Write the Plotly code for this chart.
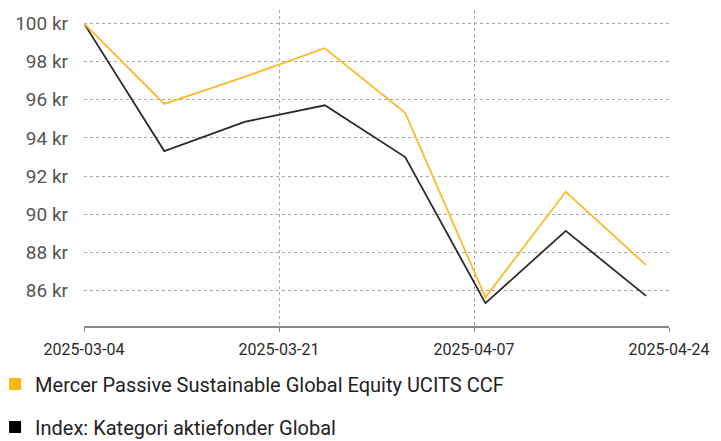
import plotly.graph_objects as go

dates = ["2025-03-04", "2025-03-11", "2025-03-18", "2025-03-25",
         "2025-04-01", "2025-04-08", "2025-04-15", "2025-04-22"]
fund_values = [100.0, 95.78, 97.2, 98.70, 95.31, 85.65, 91.18, 87.34]
index_values = [100.0, 93.31, 94.84, 95.71, 93.0, 85.35, 89.13, 85.73]
fund_name = "Mercer Passive Sustainable Global Equity UCITS CCF"
index_name = "Index: Kategori aktiefonder Global"
x_ticks = ["2025-03-04", "2025-03-21", "2025-04-07", "2025-04-24"]
y_ticks = [86, 88, 90, 92, 94, 96, 98, 100]
y_tick_labels = [f"{v} kr" for v in y_ticks]

FONT = "Roboto, sans-serif"
YELLOW = "#FDBA2C"
BLACK = "#2b2b2b"

fig = go.Figure()
fig.add_trace(go.Scatter(x=dates, y=index_values, mode="lines",
                         line=dict(color=BLACK, width=1.8), showlegend=False))
fig.add_trace(go.Scatter(x=dates, y=fund_values, mode="lines",
                         line=dict(color=YELLOW, width=1.8), showlegend=False))
# legend entries
fig.add_trace(go.Scatter(x=[None], y=[None], mode="markers", name=fund_name,
                         marker=dict(symbol="square", size=12, color="#FFB612"),
                         legendgroup="a"))
fig.add_trace(go.Scatter(x=[None], y=[None], mode="markers", name=index_name,
                         marker=dict(symbol="square", size=12, color="#000000"),
                         legendgroup="b"))

fig.update_layout(
    width=713, height=433,
    margin=dict(l=76, r=52, t=2, b=115, autoexpand=False),
    paper_bgcolor="white", plot_bgcolor="white",
    font=dict(family=FONT, size=18, color="#333333"),
    legend=dict(xref="paper", yref="paper", x=-0.152, y=-0.122,
                xanchor="left", yanchor="top", tracegroupgap=14,
                traceorder="grouped", itemwidth=30,
                font=dict(family=FONT, size=20, color="#222222")),
    xaxis=dict(type="date", range=["2025-03-04", "2025-04-24"],
               tickvals=x_ticks, ticktext=x_ticks, tickangle=0,
               showgrid=True, gridcolor="#a8a8a8", griddash="3px,3px", gridwidth=1,
               showline=True, linecolor="#888888", linewidth=1.5,
               ticks="outside", ticklen=4, tickcolor="#888888",
               ticklabelstandoff=4,
               tickfont=dict(family=FONT, size=16, color="#2a2a2a"),
               zeroline=False),
    yaxis=dict(range=[84.15, 100.7], tickvals=y_ticks, ticktext=y_tick_labels,
               showgrid=True, gridcolor="#a8a8a8", griddash="3px,3px", gridwidth=1,
               showline=False, ticks="", ticklen=0, ticklabelstandoff=15,
               tickfont=dict(family=FONT, size=19, color="#555555"),
               zeroline=False),
)

fig.write_html("out.html")
